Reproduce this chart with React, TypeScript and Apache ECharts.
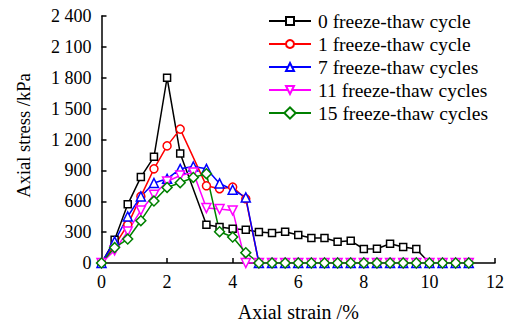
import React, { useEffect, useRef } from "react";
import * as echarts from "echarts";

const strain = [0, 0.4, 0.8, 1.2, 1.6, 2.0, 2.4, 2.8, 3.2, 3.6, 4.0, 4.4, 4.8, 5.2, 5.6, 6.0, 6.4, 6.8, 7.2, 7.6, 8.0, 8.4, 8.8, 9.2, 9.6, 10.0, 10.4, 10.8, 11.2];

const cycle0 = [0, 225, 570, 835, 1032, 1800, 1064, null, 371, 349, 333, 323, 301, 291, 304, 272, 243, 243, 207, 216, 136, 139, 187, 155, 136, 0, 0, 0, 0];
const cycle1 = [0, 170, 371, 647, 915, 1138, 1301, null, 750, 721, 738, 624, 0, 0, 0, 0, 0, 0, 0, 0, 0, 0, 0, 0, 0, 0, 0, 0, 0];
const cycle7 = [0, 210, 452, 647, 777, 818, 915, 938, 915, 773, 712, 637, 0, 0, 0, 0, 0, 0, 0, 0, 0, 0, 0, 0, 0, 0, 0, 0, 0];
const cycle11 = [0, 122, 307, 511, 663, 792, 850, 880, 534, 524, 511, 0, 0, 0, 0, 0, 0, 0, 0, 0, 0, 0, 0, 0, 0, 0, 0, 0, 0];
const cycle15 = [0, 150, 233, 411, 602, 734, 780, 831, 868, 304, 252, 100, 0, 0, 0, 0, 0, 0, 0, 0, 0, 0, 0, 0, 0, 0, 0, 0, 0];

const seriesNames = [
  "0 freeze-thaw cycle",
  "1 freeze-thaw cycle",
  "7 freeze-thaw cycles",
  "11 freeze-thaw cycles",
  "15 freeze-thaw cycles",
];
const seriesValues = [cycle0, cycle1, cycle7, cycle11, cycle15];
const colors = ["#000000", "#ff0000", "#0000ff", "#ff00ff", "#008000"];
const symbols = ["rect", "circle", "triangle", "triangle", "rect"];
const symbolRotates = [0, 0, 0, 180, 45];
const symbolSizes = [7, 8, 9, 9, 7];

const FONT = "'Liberation Serif', 'Times New Roman', serif";

function fmtY(v: number): string {
  if (v >= 1000) {
    const t = Math.floor(v / 1000);
    const r = String(v % 1000).padStart(3, "0");
    return `${t} ${r}`;
  }
  return String(v);
}

export default function App() {
  const ref = useRef<HTMLDivElement>(null);
  useEffect(() => {
    document.body.style.margin = "0";
    if (!ref.current) return;
    const chart = echarts.init(ref.current, undefined, { renderer: "svg" });
    const series = seriesValues.map((vals, i) => ({
      name: seriesNames[i],
      type: "line",
      data: strain
        .map((s, j) => [s, vals[j]])
        .filter((p) => p[1] !== null),
      symbol: symbols[i],
      symbolSize: symbolSizes[i],
      symbolRotate: symbolRotates[i],
      showAllSymbol: true,
      lineStyle: { color: colors[i], width: 1.5 },
      itemStyle: { color: "#ffffff", borderColor: colors[i], borderWidth: 1.5 },
      color: colors[i],
    }));
    chart.setOption({
      animation: false,
      backgroundColor: "#ffffff",
      grid: { left: 101.5, right: 15, top: 16, bottom: 66, containLabel: false },
      legend: {
        orient: "vertical",
        left: 263,
        top: 6,
        itemWidth: 42,
        itemHeight: 10,
        itemGap: 3,
        textStyle: { fontFamily: FONT, fontSize: 19.5, color: "#000", lineHeight: 20, padding: [0, 0, 0, 2] },
        data: seriesNames,
      },
      xAxis: {
        type: "value",
        min: 0,
        max: 12,
        interval: 2,
        name: "Axial strain /%",
        nameLocation: "middle",
        nameGap: 39,
        nameTextStyle: { fontFamily: FONT, fontSize: 20, color: "#000" },
        axisLine: { show: true, onZero: false, lineStyle: { color: "#000", width: 1.5 } },
        axisTick: { show: true, inside: true, length: 5, lineStyle: { color: "#000", width: 1.5 } },
        axisLabel: { fontFamily: FONT, fontSize: 18, color: "#000", margin: 10 },
        splitLine: { show: false },
      },
      yAxis: {
        type: "value",
        min: 0,
        max: 2400,
        interval: 300,
        name: "Axial stress /kPa",
        nameLocation: "middle",
        nameGap: 68,
        nameTextStyle: { fontFamily: FONT, fontSize: 18.5, color: "#000", padding: [0, 0, 0, 8] },
        axisLine: { show: true, lineStyle: { color: "#000", width: 1.5 } },
        axisTick: { show: true, inside: true, length: 5, lineStyle: { color: "#000", width: 1.5 } },
        axisLabel: { fontFamily: FONT, fontSize: 18, color: "#000", margin: 10, formatter: fmtY },
        splitLine: { show: false },
      },
      series,
    });
    return () => chart.dispose();
  }, []);
  return <div ref={ref} style={{ width: 510, height: 329 }} />;
}
